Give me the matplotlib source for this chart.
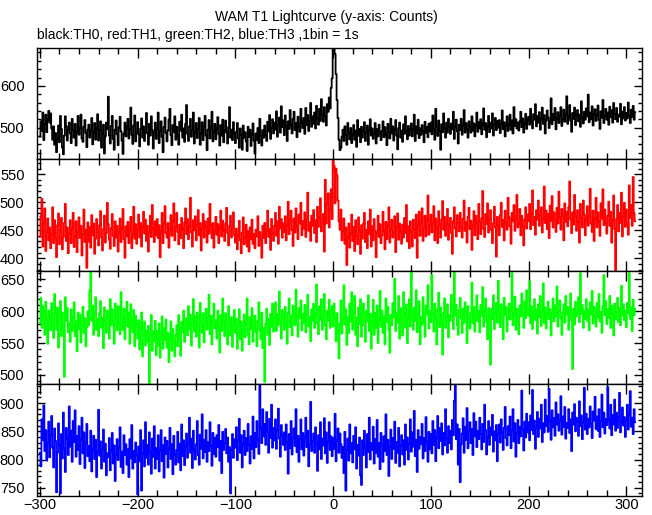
import numpy as np
import matplotlib
matplotlib.use('Agg')
import matplotlib.pyplot as plt
from matplotlib.ticker import MultipleLocator

plt.rcParams['font.family'] = ['Liberation Sans', 'DejaVu Sans']

# time bins (s), 1 bin = 1 s
t_start, t_stop = -300, 310

th0 = [
    478, 515, 492, 536, 470, 508, 531, 489, 519, 540,
    512, 534, 498, 471, 503, 459, 487, 441, 472, 505,
    465, 528, 497, 452, 436, 481, 527, 503, 469, 494,
    512, 486, 463, 521, 494, 476, 509, 457, 491, 528,
    483, 499, 531, 474, 466, 502, 518, 487, 453, 495,
    507, 476, 492, 523, 460, 488, 511, 471, 498, 532,
    469, 493, 515, 452, 485, 507, 438, 479, 512, 496,
    574, 481, 462, 504, 528, 473, 447, 495, 517, 484,
    458, 501, 526, 491, 469, 437, 486, 512, 479, 500,
    521, 474, 496, 548, 483, 461, 505, 529, 467, 490,
    513, 484, 455, 497, 522, 476, 503, 468, 491, 535,
    486, 459, 509, 481, 527, 494, 450, 487, 512, 473,
    498, 536, 463, 492, 515, 478, 441, 501, 524, 487,
    467, 493, 519, 545, 482, 458, 506, 489, 527, 471,
    502, 480, 459, 514, 493, 531, 476, 498, 466, 509,
    554, 485, 468, 503, 521, 478, 494, 536, 462, 488,
    511, 475, 497, 523, 459, 486, 513, 470, 502, 528,
    481, 446, 495, 518, 474, 500, 538, 467, 491, 509,
    472, 498, 525, 484, 457, 506, 481, 519, 465, 493,
    517, 488, 462, 501, 549, 476, 495, 470, 513, 486,
    463, 490, 511, 474, 452, 498, 482, 447, 505, 476,
    489, 467, 444, 502, 478, 495, 456, 483, 510, 469,
    438, 486, 471, 499, 463, 521, 480, 457, 494, 476,
    505, 482, 468, 514, 491, 530, 473, 499, 520, 486,
    512, 495, 539, 478, 506, 524, 488, 551, 501, 517,
    482, 529, 503, 468, 515, 497, 542, 508, 486, 521,
    538, 494, 511, 477, 526, 503, 490, 545, 512, 499,
    523, 485, 547, 506, 530, 492, 516, 559, 502, 527,
    509, 536, 498, 552, 521, 507, 545, 516, 568, 531,
    514, 549, 528, 505, 556, 538, 572, 546, 595, 618,
    702, 710, 676, 628, 566, 523, 471, 446, 452, 478,
    495, 468, 503, 482, 459, 511, 487, 472, 499, 463,
    484, 506, 471, 493, 454, 518, 480, 497, 465, 502,
    476, 491, 513, 468, 487, 505, 459, 494, 520, 481,
    498, 473, 486, 511, 462, 496, 479, 507, 488, 470,
    492, 515, 477, 501, 483, 458, 509, 490, 474, 521,
    486, 503, 469, 495, 518, 481, 448, 499, 512, 476,
    493, 466, 508, 485, 527, 490, 472, 504, 481, 497,
    510, 479, 495, 531, 468, 503, 486, 519, 475, 498,
    483, 506, 492, 465, 514, 488, 501, 477, 509, 491,
    512, 484, 529, 496, 471, 545, 503, 480, 517, 492,
    447, 508, 489, 534, 499, 476, 512, 488, 521, 503,
    485, 510, 496, 538, 473, 502, 519, 491, 462, 507,
    494, 521, 483, 505, 542, 488, 511, 497, 476, 515,
    502, 488, 527, 493, 510, 479, 505, 536, 490, 513,
    498, 520, 484, 507, 546, 495, 511, 477, 503, 528,
    489, 512, 498, 534, 481, 507, 523, 494, 516, 500,
    518, 487, 509, 541, 496, 513, 479, 505, 527, 492,
    508, 531, 495, 517, 486, 549, 504, 520, 498, 512,
    493, 515, 538, 501, 522, 488, 510, 533, 497, 519,
    526, 507, 545, 514, 498, 532, 519, 556, 503, 528,
    512, 537, 495, 521, 548, 509, 530, 486, 517, 541,
    524, 499, 515, 570, 508, 533, 518, 547, 496, 522,
    537, 511, 528, 549, 504, 520, 543, 514, 531, 575,
    509, 526, 554, 517, 490, 535, 521, 548, 506, 529,
    542, 515, 531, 502, 563, 524, 510, 538, 519, 546,
    527, 579, 513, 536, 520, 551, 505, 532, 544, 516,
    530, 553, 518, 497, 539, 524, 566, 511, 528, 545,
    519, 536, 507, 550, 525, 541, 512, 559, 533, 520,
    547, 514, 531, 526, 557, 508, 538, 522, 549, 517,
    535, 522, 560, 528, 511, 543, 526, 552, 519, 537,
]

th1 = [
    438, 475, 506, 421, 462, 489, 413, 447, 471, 432,
    455, 418, 443, 491, 427, 468, 436, 402, 459, 480,
    425, 449, 472, 416, 438, 463, 497, 431, 455, 409,
    444, 468, 427, 452, 481, 420, 439, 466, 411, 447,
    473, 436, 458, 405, 442, 487, 429, 451, 383, 464,
    430, 456, 419, 477, 441, 462, 408, 435, 470, 448,
    423, 459, 484, 437, 414, 452, 476, 428, 445, 499,
    461, 433, 417, 454, 479, 440, 422, 466, 437, 458,
    412, 446, 471, 429, 453, 488, 434, 401, 457, 439,
    465, 427, 450, 474, 418, 443, 492, 435, 461, 426,
    452, 478, 437, 463, 421, 455, 483, 444, 469, 431,
    458, 412, 447, 476, 438, 495, 453, 429, 466, 441,
    470, 436, 459, 402, 448, 481, 427, 462, 493, 445,
    437, 463, 419, 451, 477, 440, 466, 498, 432, 456,
    481, 447, 425, 460, 436, 472, 453, 418, 464, 489,
    443, 470, 434, 457, 508, 446, 421, 468, 450, 475,
    432, 459, 486, 441, 463, 414, 452, 479, 437, 466,
    455, 428, 471, 444, 497, 458, 436, 463, 419, 448,
    474, 442, 461, 427, 453, 485, 439, 467, 450, 431,
    462, 490, 445, 423, 458, 476, 437, 454, 482, 441,
    428, 453, 416, 441, 467, 432, 409, 446, 473, 425,
    437, 460, 421, 448, 412, 455, 434, 469, 426, 443,
    418, 451, 439, 475, 422, 447, 433, 401, 458, 436,
    463, 427, 449, 485, 438, 452, 415, 470, 444, 431,
    458, 481, 440, 466, 426, 492, 453, 470, 437, 462,
    447, 475, 432, 459, 501, 443, 468, 485, 450, 422,
    471, 446, 489, 457, 434, 478, 462, 499, 441, 466,
    453, 482, 438, 470, 517, 449, 464, 431, 476, 458,
    486, 445, 468, 429, 492, 456, 473, 507, 448, 465,
    479, 412, 540, 462, 497, 516, 455, 488, 523, 470,
    590, 565, 498, 560, 548, 503, 466, 451, 487, 432,
    448, 471, 426, 455, 388, 437, 462, 419, 444, 478,
    431, 456, 413, 468, 440, 425, 473, 447, 408, 459,
    435, 462, 481, 429, 451, 418, 466, 443, 487, 421,
    457, 432, 470, 449, 402, 445, 476, 438, 461, 427,
    441, 483, 450, 416, 465, 434, 458, 491, 428, 452,
    469, 437, 446, 475, 411, 455, 480, 433, 462, 448,
    426, 460, 437, 472, 445, 495, 430, 457, 418, 466,
    447, 421, 469, 452, 436, 478, 401, 458, 483, 440,
    463, 489, 431, 454, 476, 439, 467, 512, 442, 459,
    478, 446, 463, 493, 432, 471, 455, 427, 484, 460,
    437, 469, 502, 451, 474, 440, 461, 488, 433, 458,
    472, 445, 408, 466, 491, 453, 439, 477, 463, 448,
    481, 456, 437, 470, 503, 449, 465, 428, 474, 490,
    452, 467, 415, 458, 484, 441, 476, 462, 434, 497,
    465, 443, 471, 520, 452, 438, 479, 461, 498, 446,
    470, 486, 450, 427, 463, 492, 455, 403, 474, 459,
    441, 477, 499, 456, 468, 432, 485, 462, 451, 508,
    473, 457, 426, 481, 466, 495, 449, 470, 513, 455,
    462, 488, 441, 476, 457, 423, 469, 491, 453, 478,
    466, 497, 452, 480, 521, 459, 474, 442, 486, 469,
    503, 458, 477, 491, 446, 470, 528, 463, 485, 452,
    479, 436, 494, 467, 511, 455, 482, 468, 447, 490,
    462, 519, 473, 451, 488, 476, 432, 498, 465, 483,
    457, 491, 537, 469, 445, 482, 460, 513, 474, 449,
    486, 465, 428, 497, 472, 455, 503, 478, 441, 469,
    493, 458, 476, 524, 462, 447, 485, 431, 471, 508,
    455, 482, 466, 440, 498, 471, 523, 459, 487, 463,
    444, 476, 501, 458, 483, 428, 467, 512, 452, 378,
    470, 495, 448, 481, 463, 517, 439, 474, 499, 456,
    487, 461, 442, 530, 472, 495, 458, 545, 480, 466,
]

th2 = [
    582, 621, 574, 608, 596, 563, 615, 587, 549, 601,
    592, 570, 613, 584, 558, 627, 597, 571, 606, 543,
    588, 616, 561, 598, 578, 497, 622, 585, 605, 567,
    581, 552, 603, 569, 590, 614, 561, 584, 537, 598,
    572, 595, 551, 584, 607, 566, 589, 545, 575, 600,
    578, 632, 664, 585, 609, 563, 596, 622, 571, 588,
    561, 597, 616, 574, 590, 542, 606, 583, 566, 601,
    590, 557, 619, 578, 603, 585, 549, 612, 594, 570,
    608, 581, 564, 630, 590, 571, 604, 556, 587, 615,
    576, 598, 549, 611, 583, 567, 602, 545, 593, 579,
    557, 586, 540, 572, 598, 529, 563, 584, 546, 570,
    551, 577, 485, 561, 594, 538, 568, 553, 585, 531,
    569, 546, 581, 527, 558, 592, 541, 573, 555, 587,
    543, 566, 520, 557, 584, 538, 572, 549, 529, 563,
    578, 545, 594, 561, 530, 583, 567, 601, 552, 575,
    589, 562, 608, 571, 595, 546, 583, 619, 568, 592,
    560, 598, 575, 543, 613, 584, 566, 597, 551, 580,
    604, 571, 589, 626, 564, 593, 548, 585, 612, 573,
    586, 557, 601, 576, 535, 594, 569, 620, 582, 561,
    597, 573, 548, 608, 585, 562, 591, 544, 579, 602,
    566, 588, 541, 577, 603, 556, 584, 538, 570, 595,
    559, 582, 620, 563, 548, 591, 572, 605, 552, 578,
    593, 567, 545, 585, 614, 570, 556, 598, 542, 574,
    489, 581, 604, 563, 588, 547, 596, 575, 612, 568,
    587, 614, 569, 596, 578, 631, 584, 557, 602, 590,
    571, 607, 586, 549, 598, 620, 575, 593, 562, 609,
    595, 578, 634, 583, 560, 605, 589, 617, 570, 596,
    581, 610, 567, 599, 626, 576, 591, 553, 603, 585,
    612, 574, 596, 642, 580, 564, 608, 587, 619, 571,
    593, 627, 578, 556, 601, 585, 618, 574, 596, 608,
    576, 612, 589, 553, 597, 570, 526, 581, 617, 565,
    588, 641, 579, 603, 547, 591, 566, 612, 584, 630,
    571, 598, 624, 563, 590, 545, 606, 580, 619, 560,
    593, 612, 577, 552, 601, 584, 625, 569, 596, 541,
    585, 618, 563, 597, 574, 609, 550, 588, 632, 576,
    601, 566, 592, 548, 620, 583, 607, 571, 535, 594,
    578, 613, 590, 651, 569, 598, 582, 624, 557, 605,
    587, 562, 630, 596, 574, 611, 550, 589, 619, 576,
    664, 598, 571, 606, 585, 633, 567, 594, 616, 548,
    591, 579, 622, 584, 560, 609, 595, 641, 573, 600,
    583, 657, 596, 568, 612, 587, 548, 603, 629, 575,
    606, 581, 532, 597, 620, 574, 591, 611, 559, 594,
    585, 626, 600, 572, 661, 593, 610, 578, 563, 602,
    621, 589, 566, 604, 582, 614, 597, 550, 608, 586,
    573, 598, 645, 581, 607, 568, 592, 625, 584, 601,
    567, 610, 593, 638, 576, 599, 620, 583, 556, 605,
    591, 516, 604, 588, 625, 572, 597, 613, 582, 648,
    599, 575, 611, 589, 556, 621, 594, 607, 568, 590,
    612, 587, 601, 660, 578, 596, 623, 571, 604, 585,
    564, 609, 592, 628, 597, 574, 616, 589, 633, 602,
    593, 647, 581, 608, 572, 598, 619, 586, 603, 565,
    611, 590, 624, 577, 599, 644, 582, 606, 573, 597,
    615, 588, 603, 562, 597, 620, 584, 609, 592, 639,
    576, 601, 617, 589, 563, 598, 611, 582, 624, 595,
    607, 571, 593, 628, 586, 509, 604, 579, 615, 592,
    598, 622, 583, 660, 596, 610, 574, 601, 588, 619,
    585, 603, 570, 614, 595, 632, 581, 607, 592, 576,
    613, 590, 627, 584, 599, 566, 608, 657, 594, 616,
    580, 603, 590, 624, 574, 609, 596, 562, 612, 587,
    599, 621, 583, 605, 578, 640, 593, 611, 586, 601,
    575, 613, 597, 660, 588, 606, 569, 618, 594, 604,
]

th3 = [
    812, 788, 871, 834, 896, 815, 852, 798, 829, 867,
    804, 843, 877, 821, 786, 855, 833, 742, 812, 864,
    826, 740, 845, 802, 883, 819, 778, 856, 837, 808,
    894, 823, 851, 796, 868, 831, 887, 805, 842, 817,
    859, 792, 836, 874, 811, 848, 785, 829, 863, 806,
    824, 797, 851, 779, 818, 842, 801, 835, 769, 813,
    888, 807, 832, 784, 819, 853, 796, 828, 772, 811,
    804, 838, 781, 816, 847, 793, 825, 762, 809, 836,
    799, 821, 857, 787, 814, 776, 843, 808, 827, 791,
    818, 769, 836, 802, 861, 784, 815, 795, 830, 808,
    738, 823, 797, 852, 745, 810, 834, 788, 866, 803,
    826, 791, 848, 812, 775, 837, 805, 859, 784, 820,
    801, 843, 779, 816, 852, 797, 825, 768, 839, 810,
    833, 786, 819, 856, 801, 827, 774, 842, 809, 791,
    817, 849, 795, 828, 781, 862, 806, 834, 790, 823,
    846, 803, 829, 874, 812, 837, 785, 851, 818, 800,
    827, 868, 808, 791, 844, 819, 880, 802, 835, 813,
    852, 796, 831, 815, 866, 824, 789, 847, 810, 838,
    805, 843, 822, 861, 798, 833, 776, 849, 817, 829,
    854, 811, 839, 796, 822, 740, 818, 845, 803, 836,
    821, 857, 799, 834, 872, 812, 843, 786, 827, 851,
    808, 838, 815, 863, 826, 793, 841, 819, 876, 802,
    847, 822, 868, 835, 810, 931, 855, 829, 889, 841,
    863, 826, 884, 849, 812, 872, 838, 897, 821, 856,
    834, 871, 819, 852, 890, 837, 805, 861, 843, 826,
    848, 817, 862, 831, 775, 845, 820, 868, 809, 838,
    855, 824, 889, 813, 842, 796, 836, 871, 818, 847,
    807, 839, 874, 822, 851, 788, 827, 902, 815, 833,
    846, 812, 857, 829, 780, 843, 818, 866, 801, 837,
    825, 873, 811, 848, 794, 832, 866, 817, 841, 806,
    838, 819, 881, 797, 834, 855, 812, 846, 827, 803,
    822, 776, 849, 745, 816, 837, 798, 862, 811, 829,
    795, 842, 818, 857, 784, 826, 807, 839, 772, 755,
    834, 808, 851, 821, 786, 845, 813, 874, 800, 829,
    817, 858, 793, 836, 812, 870, 805, 829, 783, 847,
    826, 796, 841, 815, 880, 808, 835, 771, 822, 853,
    801, 838, 819, 867, 794, 831, 812, 856, 788, 825,
    843, 809, 834, 791, 862, 817, 839, 800, 828, 871,
    814, 848, 823, 886, 806, 835, 778, 852, 819, 840,
    827, 863, 802, 838, 815, 875, 831, 796, 849, 818,
    845, 811, 868, 826, 852, 797, 839, 877, 820, 856,
    833, 864, 809, 847, 825, 889, 838, 812, 859, 829,
    851, 818, 870, 843, 904, 931, 836, 862, 791, 854,
    760, 827, 846, 873, 812, 858, 835, 891, 820, 849,
    866, 829, 854, 808, 882, 841, 867, 822, 851, 836,
    874, 845, 818, 863, 831, 897, 852, 809, 839, 868,
    826, 857, 843, 879, 814, 850, 834, 861, 797, 845,
    862, 830, 871, 848, 817, 856, 893, 838, 825, 859,
    843, 876, 820, 851, 889, 832, 864, 805, 847, 870,
    829, 858, 841, 922, 853, 816, 867, 839, 881, 848,
    866, 834, 878, 852, 923, 845, 869, 819, 857, 884,
    840, 872, 855, 897, 831, 864, 848, 906, 859, 877,
    849, 925, 868, 835, 887, 857, 873, 842, 901, 862,
    880, 851, 869, 912, 844, 876, 858, 893, 837, 865,
    856, 889, 847, 871, 815, 883, 862, 898, 850, 874,
    867, 842, 903, 859, 878, 836, 866, 927, 853, 881,
    845, 872, 857, 894, 863, 838, 885, 869, 911, 854,
    876, 851, 889, 840, 868, 915, 857, 883, 846, 872,
    861, 928, 870, 855, 897, 843, 879, 862, 906, 851,
    883, 856, 874, 918, 848, 867, 892, 860, 875, 840,
    869, 897, 853, 880, 921, 858, 874, 845, 889, 866,
]

series = [th0, th1, th2, th3]
colors = ['black', '#ff0000', '#00ff00', '#0000ff']
ylims = [(426, 690), (377, 578), (486, 663), (736, 934)]
ymajor = [100, 50, 50, 50]
yminor = [20, 10, 10, 10]

# panel edges in pixels from the top of a 652x515 figure
W, H = 652.0, 515.0
left_px, right_px = 37.0, 642.0
edges_px = [48.3, 158.5, 271.2, 383.8, 495.7]


def setup_panel(ax, ylim, major, minor, show_xlabels):
    ax.set_xlim(-303, 316)
    ax.set_ylim(*ylim)
    ax.xaxis.set_major_locator(MultipleLocator(100))
    ax.xaxis.set_minor_locator(MultipleLocator(20))
    ax.yaxis.set_major_locator(MultipleLocator(major))
    ax.yaxis.set_minor_locator(MultipleLocator(minor))
    ax.tick_params(which='both', direction='in', top=True, right=True,
                   width=1.0, labelsize=10.5)
    ax.tick_params(axis='y', pad=9)
    ax.tick_params(axis='x', pad=2)
    ax.tick_params(which='major', length=6)
    ax.tick_params(which='minor', length=3)
    ax.tick_params(axis='x', which='major', length=7)
    ax.tick_params(axis='x', which='minor', length=4)
    if not show_xlabels:
        ax.tick_params(axis='x', labelbottom=False)
    for sp in ax.spines.values():
        sp.set_linewidth(1.0)


if __name__ == '__main__':
    fig = plt.figure(figsize=(W / 100, H / 100), dpi=100)
    t = np.arange(t_start, t_stop)

    for i, (counts, c) in enumerate(zip(series, colors)):
        top, bot = edges_px[i], edges_px[i + 1]
        ax = fig.add_axes([left_px / W, 1 - bot / H,
                           (right_px - left_px) / W, (bot - top) / H])
        ax.plot(t, np.asarray(counts), drawstyle='steps-mid', color=c, lw=1.3)
        setup_panel(ax, ylims[i], ymajor[i], yminor[i], i == 3)

    fig.text(326 / W, 1 - 17 / H, 'WAM T1 Lightcurve (y-axis: Counts)',
             ha='center', va='center', fontsize=10)
    fig.text(37 / W, 1 - 35 / H,
             'black:TH0, red:TH1, green:TH2, blue:TH3 ,1bin = 1s',
             ha='left', va='center', fontsize=10)

    fig.savefig('out.png', dpi=100)
